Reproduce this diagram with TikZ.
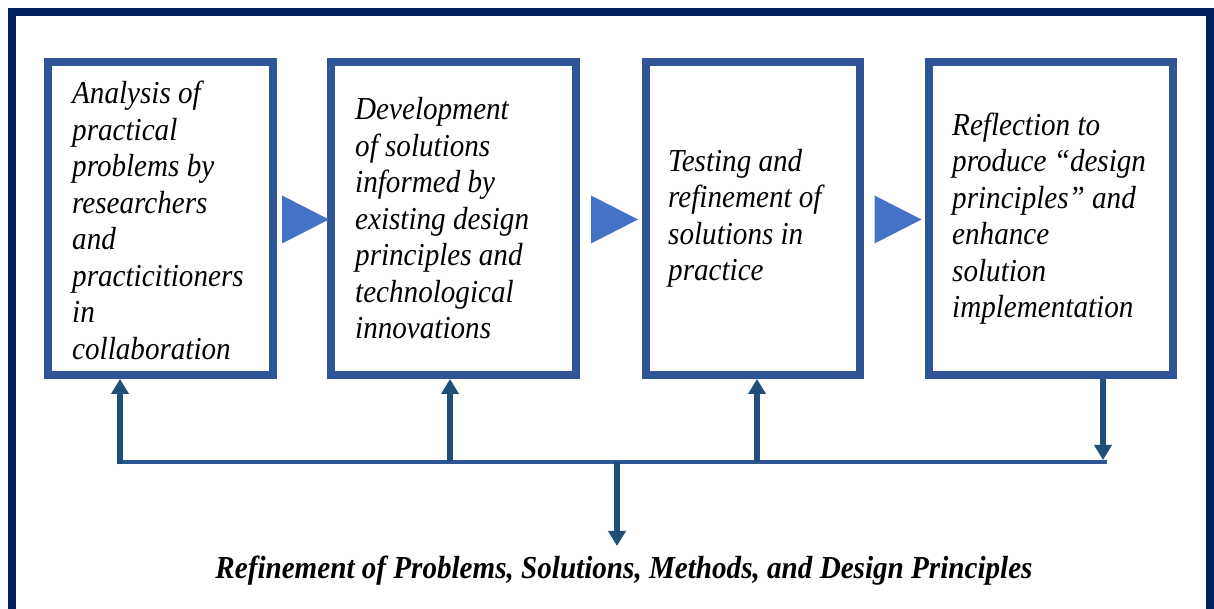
\documentclass[tikz,border=0pt]{standalone}
\usepackage{fontspec}
\setmainfont{Liberation Serif}
\newfontfamily\stepfont{Liberation Serif}[FakeStretch=0.91]
\usetikzlibrary{positioning,calc,arrows.meta}

\definecolor{framenavy}{HTML}{002060}
\definecolor{boxblue}{HTML}{2F5597}
\definecolor{arrowblue}{HTML}{1F4E79}
\definecolor{triblue}{HTML}{4472C4}

\tikzset{
  stepbox/.style={draw=boxblue, line width=8pt, minimum height=313pt, inner sep=0pt},
  steptext/.style={font=\stepfont\itshape\fontsize{32}{36.5}\selectfont, align=left, inner sep=0pt},
  feedback/.style={draw=arrowblue, line width=5.5pt, -{Triangle[length=15pt,width=17pt]}},
}

\begin{document}
\begin{tikzpicture}[x=1pt, y=1pt]
    \useasboundingbox (0,0) rectangle (1214,609);
    \clip (0,0) rectangle (1214,609);

    % Frame
    \draw[framenavy, line width=8pt] (12,-20) -- (12,597) -- (1210,597) -- (1210,-20);

    % Steps
    \node[stepbox, minimum width=225pt] (b1) at (160.5,390.5) {};
    \node[stepbox, minimum width=245pt] (b2) at (453.5,390.5) {};
    \node[stepbox, minimum width=214pt] (b3) at (753,390.5) {};
    \node[stepbox, minimum width=244pt] (b4) at (1051,390.5) {};

    \node[steptext, right=28pt of b1.west, yshift=-2pt] (t1) {Analysis of\\practical\\problems by\\researchers\\and\\practicitioners\\in\\collaboration};
    \node[steptext, right=28pt of b2.west] (t2) {Development\\of solutions\\informed by\\existing design\\principles and\\technological\\innovations};
    \node[steptext, right=26pt of b3.west] (t3) {Testing and\\refinement of\\solutions in\\practice};
    \node[steptext, right=27pt of b4.west] (t4) {Reflection to\\produce “design\\principles” and\\enhance\\solution\\implementation};

    % Forward triangles
    \foreach \a/\b in {b1/b2, b2/b3, b3/b4}
        \fill[triblue] ($(\a.east)!0.5!(\b.west)+(-20,23)$) -- ++(0,-48) -- ++(47,24) -- cycle;

    % Feedback line
    \coordinate (f1) at (120,147);
    \coordinate (f2) at (450,147);
    \coordinate (f3) at (757,147);
    \coordinate (f4) at (1103,149);
    \coordinate (fr) at (1107,147);
    \coordinate (fm) at (617,147);
    \coordinate (out) at (617,63);

    \draw[boxblue, line width=4.5pt] (f1) -- (fr);
    \draw[feedback] ($(f1)+(0,-2.25)$) -- (f1 |- b1.south);
    \draw[feedback] (f2) -- (f2 |- b2.south);
    \draw[feedback] (f3) -- (f3 |- b3.south);
    \draw[feedback] (f4 |- b4.south) -- (f4);
    \draw[feedback] (fm) -- (out);

    % Outcome
    \node[font=\stepfont\bfseries\itshape\fontsize{32}{36}\selectfont] (outcome) at (624,38)
        {Refinement of Problems, Solutions, Methods, and Design Principles};
\end{tikzpicture}
\end{document}
